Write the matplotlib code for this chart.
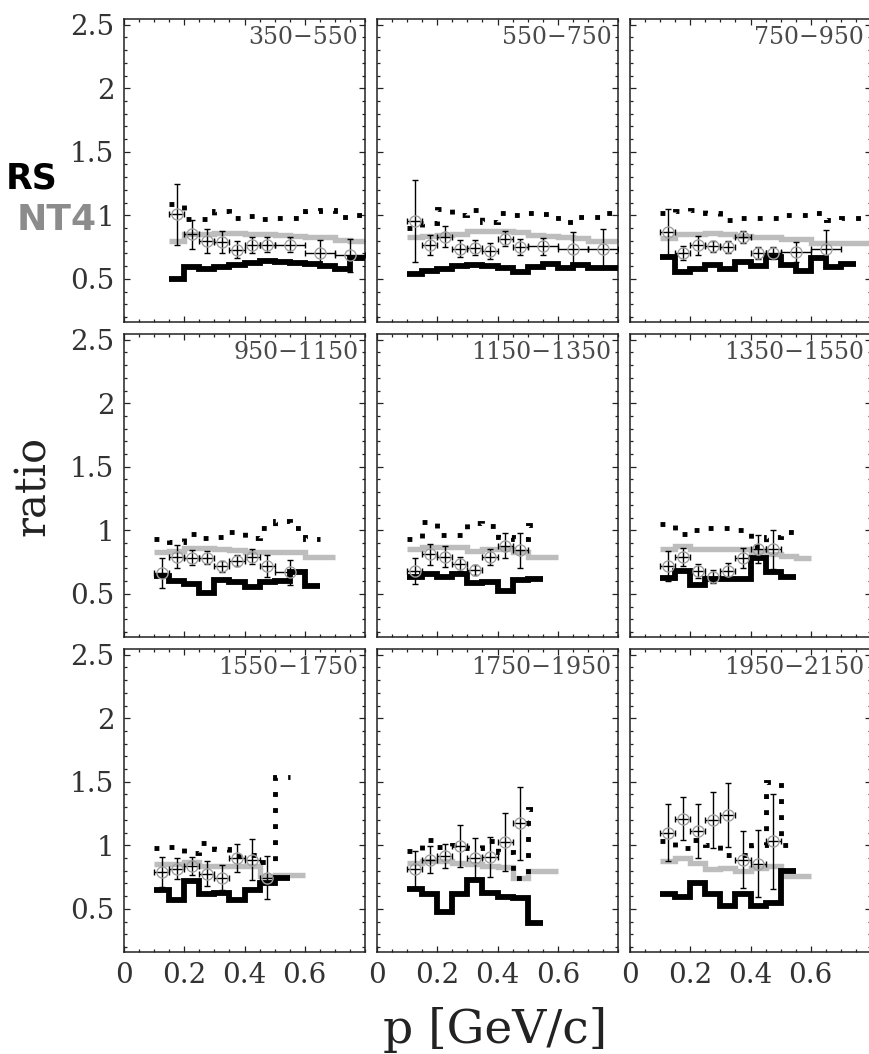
import matplotlib
matplotlib.use('Agg')
import matplotlib.pyplot as plt
from matplotlib.ticker import MultipleLocator, FixedLocator, FuncFormatter

# panel titles (momentum ranges)
labels = ['350\u2212550', '550\u2212750', '750\u2212950',
          '950\u22121150', '1150\u22121350', '1350\u22121550',
          '1550\u22121750', '1750\u22121950', '1950\u22122150']

# histogram bin edges
E15_80 = [0.15, 0.2, 0.25, 0.3, 0.35, 0.4, 0.45, 0.5, 0.55, 0.6, 0.65, 0.7, 0.75, 0.8]
E10_80 = [0.1, 0.15, 0.2, 0.25, 0.3, 0.35, 0.4, 0.45, 0.5, 0.55, 0.6, 0.65, 0.7, 0.75, 0.8]
E10_75 = [0.1, 0.15, 0.2, 0.25, 0.3, 0.35, 0.4, 0.45, 0.5, 0.55, 0.6, 0.65, 0.7, 0.75]
E10_70 = [0.1, 0.15, 0.2, 0.25, 0.3, 0.35, 0.4, 0.45, 0.5, 0.55, 0.6, 0.65, 0.7]
E10_65 = [0.1, 0.15, 0.2, 0.25, 0.3, 0.35, 0.4, 0.45, 0.5, 0.55, 0.6, 0.65]
E10_60 = [0.1, 0.15, 0.2, 0.25, 0.3, 0.35, 0.4, 0.45, 0.5, 0.55, 0.6]
E10_55 = [0.1, 0.15, 0.2, 0.25, 0.3, 0.35, 0.4, 0.45, 0.5, 0.55]

# black thick histogram
black_edges = [E15_80, E10_80, E10_75, E10_65, E10_55, E10_55, E10_55, E10_55, E10_55]
black_vals = [
    [0.50, 0.59, 0.575, 0.59, 0.61, 0.625, 0.64, 0.635, 0.625, 0.615, 0.60, 0.58, 0.66],
    [0.535, 0.56, 0.58, 0.60, 0.605, 0.60, 0.585, 0.55, 0.59, 0.62, 0.585, 0.61, 0.585, 0.585],
    [0.675, 0.555, 0.58, 0.61, 0.58, 0.63, 0.60, 0.675, 0.61, 0.565, 0.66, 0.59, 0.62],
    [0.64, 0.60, 0.575, 0.51, 0.61, 0.59, 0.55, 0.59, 0.60, 0.67, 0.565],
    [0.63, 0.655, 0.63, 0.655, 0.585, 0.59, 0.525, 0.605, 0.62],
    [0.622, 0.68, 0.57, 0.62, 0.615, 0.615, 0.785, 0.674, 0.63],
    [0.65, 0.57, 0.72, 0.615, 0.625, 0.57, 0.65, 0.70, 0.74],
    [0.655, 0.615, 0.475, 0.615, 0.73, 0.625, 0.59, 0.585, 0.39],
    [0.618, 0.594, 0.70, 0.613, 0.526, 0.613, 0.52, 0.547, 0.80],
]

# grey thick histogram
gray_edges = [E15_80, E10_80, E10_80, E10_70, E10_60, E10_60, E10_60, E10_60, E10_60]
gray_vals = [
    [0.80, 0.85, 0.85, 0.86, 0.86, 0.855, 0.85, 0.845, 0.84, 0.83, 0.83, 0.805, 0.80],
    [0.83, 0.84, 0.845, 0.85, 0.875, 0.875, 0.875, 0.87, 0.845, 0.84, 0.83, 0.82, 0.80, 0.80],
    [0.82, 0.855, 0.855, 0.86, 0.855, 0.84, 0.83, 0.83, 0.815, 0.815, 0.785, 0.785, 0.785, 0.785],
    [0.83, 0.84, 0.86, 0.86, 0.85, 0.845, 0.83, 0.83, 0.83, 0.83, 0.79, 0.79],
    [0.85, 0.87, 0.87, 0.87, 0.835, 0.855, 0.855, 0.83, 0.79, 0.79],
    [0.855, 0.875, 0.85, 0.85, 0.855, 0.85, 0.83, 0.81, 0.80, 0.78],
    [0.85, 0.85, 0.87, 0.835, 0.835, 0.835, 0.835, 0.76, 0.77, 0.77],
    [0.86, 0.875, 0.875, 0.86, 0.85, 0.835, 0.83, 0.745, 0.795, 0.795],
    [0.88, 0.90, 0.86, 0.81, 0.82, 0.80, 0.82, 0.84, 0.76, 0.76],
]

# dotted histogram
dot_edges = [E15_80, E10_80, E10_80, E10_65, E10_55, E10_55, E10_55, E10_55, E10_55]
dot_vals = [
    [1.09, 0.97, 0.97, 1.03, 0.98, 0.995, 0.97, 0.98, 0.98, 1.03, 1.04, 0.99, 1.0],
    [0.90, 0.94, 1.05, 1.00, 1.04, 0.95, 1.02, 1.005, 1.02, 1.01, 0.95, 0.99, 0.99, 1.02],
    [1.02, 1.03, 1.045, 1.02, 0.966, 0.98, 0.98, 0.98, 1.0, 1.0, 1.015, 0.965, 0.98, 0.98],
    [0.935, 0.91, 0.97, 0.94, 0.95, 0.99, 0.94, 1.02, 1.07, 1.02, 0.935],
    [0.93, 1.065, 0.96, 0.96, 1.055, 1.03, 0.945, 0.93, 1.045],
    [1.05, 0.97, 1.005, 1.015, 1.02, 1.0, 0.88, 0.95, 0.99],
    [0.98, 0.99, 0.94, 1.02, 0.97, 0.915, 0.92, 0.87, 1.54],
    [0.955, 1.04, 0.985, 1.0, 0.975, 1.03, 0.95, 0.745, 1.285],
    [1.03, 0.98, 1.04, 1.0, 0.92, 0.92, 1.0, 1.50, 1.0],
]

# data points with errors
pt_x = [
    [0.175, 0.225, 0.275, 0.325, 0.375, 0.425, 0.475, 0.55, 0.65, 0.75],
    [0.125, 0.175, 0.225, 0.275, 0.325, 0.375, 0.425, 0.475, 0.55, 0.65, 0.75],
    [0.125, 0.175, 0.225, 0.275, 0.325, 0.375, 0.425, 0.475, 0.55, 0.65],
    [0.125, 0.175, 0.225, 0.275, 0.325, 0.375, 0.425, 0.475, 0.55],
    [0.125, 0.175, 0.225, 0.275, 0.325, 0.375, 0.425, 0.475],
    [0.125, 0.175, 0.225, 0.275, 0.325, 0.375, 0.425, 0.475],
    [0.125, 0.175, 0.225, 0.275, 0.325, 0.375, 0.425, 0.475],
    [0.125, 0.175, 0.225, 0.275, 0.325, 0.375, 0.425, 0.475],
    [0.125, 0.175, 0.225, 0.275, 0.325, 0.375, 0.425, 0.475],
]
pt_xerr = [
    [0.025] * 7 + [0.05] * 3,
    [0.025] * 8 + [0.05] * 3,
    [0.025] * 8 + [0.05] * 2,
    [0.025] * 8 + [0.05],
    [0.025] * 8,
    [0.025] * 8,
    [0.025] * 8,
    [0.025] * 8,
    [0.025] * 8,
]
pt_y = [
    [1.01, 0.85, 0.80, 0.79, 0.73, 0.765, 0.77, 0.77, 0.705, 0.685],
    [0.955, 0.765, 0.83, 0.737, 0.745, 0.72, 0.815, 0.75, 0.755, 0.737, 0.737],
    [0.868, 0.703, 0.763, 0.755, 0.75, 0.83, 0.703, 0.703, 0.71, 0.737],
    [0.663, 0.793, 0.785, 0.785, 0.715, 0.76, 0.793, 0.72, 0.668],
    [0.68, 0.81, 0.793, 0.738, 0.687, 0.79, 0.88, 0.842],
    [0.72, 0.79, 0.68, 0.635, 0.68, 0.785, 0.855, 0.85],
    [0.79, 0.817, 0.835, 0.777, 0.746, 0.90, 0.887, 0.746],
    [0.814, 0.887, 0.919, 0.992, 0.90, 0.906, 1.026, 1.175],
    [1.10, 1.21, 1.115, 1.20, 1.235, 0.887, 0.853, 1.03],
]
pt_yerr = [
    [0.24, 0.115, 0.095, 0.083, 0.07, 0.065, 0.057, 0.057, 0.10, 0.13],
    [0.325, 0.08, 0.083, 0.065, 0.06, 0.063, 0.06, 0.06, 0.07, 0.128, 0.158],
    [0.18, 0.053, 0.074, 0.045, 0.05, 0.047, 0.048, 0.045, 0.08, 0.145],
    [0.117, 0.092, 0.058, 0.05, 0.04, 0.045, 0.061, 0.085, 0.097],
    [0.103, 0.083, 0.082, 0.055, 0.04, 0.06, 0.10, 0.137],
    [0.118, 0.072, 0.052, 0.05, 0.065, 0.078, 0.11, 0.153],
    [0.118, 0.085, 0.07, 0.1, 0.1, 0.108, 0.16, 0.168],
    [0.144, 0.107, 0.095, 0.165, 0.158, 0.157, 0.23, 0.287],
    [0.222, 0.168, 0.212, 0.218, 0.252, 0.222, 0.264, 0.372],
]

plt.rcParams['font.family'] = ['DejaVu Serif']

fig = plt.figure(figsize=(8.69, 10.54), dpi=100)

W, H = 869.0, 1054.0
col_left = [124, 377, 630]      # px
row_top = [19, 334, 649]        # px
pw, ph = 241, 303

def fmt(v, pos):
    return '%g' % v

for i in range(9):
    r, c = divmod(i, 3)
    ax = fig.add_axes([col_left[c] / W, 1 - (row_top[r] + ph) / H, pw / W, ph / H])
    ax.set_xlim(0, 0.8)
    ax.set_ylim(0.16, 2.545)

    ax.stairs(gray_vals[i], gray_edges[i], baseline=None, color='#bdbdbd', lw=3.9, zorder=2)
    ax.stairs(black_vals[i], black_edges[i], baseline=None, color='black', lw=4.2, zorder=3)
    ax.stairs(dot_vals[i], dot_edges[i], baseline=None, color='black', lw=3.5,
              linestyle=(0, (1, 2.3)), capstyle='butt', zorder=4)
    ax.errorbar(pt_x[i], pt_y[i], yerr=pt_yerr[i], xerr=pt_xerr[i], fmt='o', ms=8,
                mfc='none', mec='#a0a0a0', mew=1.0, ecolor='black', elinewidth=1.0,
                capsize=2.4, capthick=1.0, zorder=5)

    ax.text(0.972, 0.978, labels[i], transform=ax.transAxes, ha='right', va='top',
            fontsize=17, color='#4a4a4a')

    ax.xaxis.set_major_locator(FixedLocator([0, 0.2, 0.4, 0.6]))
    ax.xaxis.set_minor_locator(MultipleLocator(0.05))
    ax.yaxis.set_major_locator(MultipleLocator(0.5))
    ax.yaxis.set_minor_locator(MultipleLocator(0.1))
    ax.xaxis.set_major_formatter(FuncFormatter(fmt))
    ax.yaxis.set_major_formatter(FuncFormatter(fmt))
    ax.tick_params(which='both', direction='in', top=True, right=True,
                   color='#222222', width=0.9)
    ax.tick_params(which='major', length=4.2)
    ax.tick_params(which='minor', length=2.4)
    ax.tick_params(axis='y', labelsize=20, pad=7, labelcolor='#333333')
    ax.tick_params(axis='x', labelsize=20, pad=7, labelcolor='#333333')
    for s in ax.spines.values():
        s.set_linewidth(1.1)
        s.set_color('#222222')
    if c != 0:
        ax.tick_params(axis='y', labelleft=False)
    if r != 2:
        ax.tick_params(axis='x', labelbottom=False)

fig.text(33 / W, 1 - 486 / H, 'ratio', rotation=90, ha='center', va='center',
         fontsize=30, color='#222222')
fig.text(495 / W, 1 - 1043 / H, 'p [GeV/c]', ha='center', va='baseline',
         fontsize=34, color='#222222')

# legend entries (cut by the left border in the original)
fig.text(58 / W, 1 - 178 / H, 'RS', ha='right', va='center', fontsize=25,
         fontweight='bold', family=['DejaVu Sans'], color='black')
fig.text(97 / W, 1 - 220 / H, 'NT4', ha='right', va='center', fontsize=26,
         fontweight='bold', family=['DejaVu Sans'], color='#8c8c8c')

fig.savefig('out.png', dpi=100)
